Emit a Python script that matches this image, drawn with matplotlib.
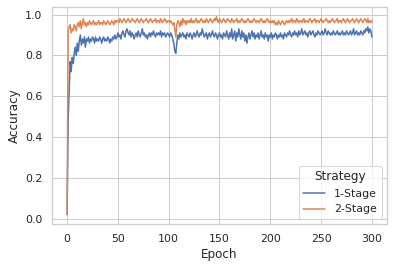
import numpy as np
import matplotlib
matplotlib.use("Agg")
import matplotlib.pyplot as plt
import seaborn as sns

# accuracy per epoch
stage1 = [
    0.02, 0.48, 0.63, 0.77, 0.72, 0.79, 0.76, 0.81, 0.84, 0.80,
    0.86, 0.82, 0.87, 0.90, 0.85, 0.88, 0.86, 0.89, 0.84, 0.88,
    0.87, 0.89, 0.86, 0.88, 0.87, 0.89, 0.88, 0.86, 0.89, 0.87,
    0.88, 0.87, 0.89, 0.88, 0.86, 0.88, 0.89, 0.87, 0.88, 0.87,
    0.89, 0.88, 0.86, 0.88, 0.87, 0.89, 0.88, 0.90, 0.88, 0.89,
    0.91, 0.89, 0.90, 0.88, 0.91, 0.92, 0.90, 0.89, 0.92, 0.93,
    0.91, 0.90, 0.92, 0.89, 0.91, 0.90, 0.88, 0.90, 0.91, 0.89,
    0.92, 0.90, 0.89, 0.91, 0.93, 0.90, 0.91, 0.89, 0.90, 0.88,
    0.90, 0.91, 0.89, 0.91, 0.90, 0.92, 0.90, 0.89, 0.91, 0.90,
    0.91, 0.90, 0.92, 0.89, 0.91, 0.90, 0.91, 0.89, 0.90, 0.91,
    0.90, 0.89, 0.91, 0.90, 0.88, 0.86, 0.82, 0.81, 0.86, 0.90,
    0.88, 0.91, 0.89, 0.90, 0.91, 0.89, 0.90, 0.88, 0.91, 0.90,
    0.89, 0.91, 0.90, 0.88, 0.90, 0.91, 0.89, 0.90, 0.92, 0.90,
    0.89, 0.91, 0.90, 0.93, 0.91, 0.89, 0.90, 0.91, 0.88, 0.90,
    0.91, 0.89, 0.90, 0.92, 0.90, 0.89, 0.91, 0.90, 0.88, 0.90,
    0.91, 0.89, 0.90, 0.88, 0.91, 0.90, 0.89, 0.92, 0.90, 0.88,
    0.91, 0.89, 0.93, 0.88, 0.90, 0.92, 0.87, 0.91, 0.89, 0.93,
    0.90, 0.88, 0.92, 0.89, 0.91, 0.87, 0.90, 0.86, 0.89, 0.91,
    0.88, 0.90, 0.92, 0.89, 0.91, 0.88, 0.90, 0.89, 0.91, 0.88,
    0.90, 0.92, 0.89, 0.90, 0.88, 0.91, 0.89, 0.90, 0.87, 0.90,
    0.89, 0.91, 0.88, 0.90, 0.89, 0.91, 0.90, 0.88, 0.90, 0.89,
    0.91, 0.89, 0.90, 0.88, 0.91, 0.90, 0.89, 0.91, 0.90, 0.92,
    0.90, 0.89, 0.91, 0.90, 0.92, 0.90, 0.91, 0.89, 0.92, 0.90,
    0.91, 0.93, 0.90, 0.91, 0.92, 0.90, 0.91, 0.89, 0.91, 0.92,
    0.90, 0.91, 0.92, 0.90, 0.89, 0.91, 0.90, 0.92, 0.91, 0.90,
    0.91, 0.92, 0.90, 0.91, 0.93, 0.91, 0.90, 0.92, 0.91, 0.90,
    0.91, 0.90, 0.92, 0.91, 0.90, 0.91, 0.92, 0.90, 0.91, 0.90,
    0.91, 0.92, 0.90, 0.91, 0.90, 0.92, 0.91, 0.90, 0.91, 0.92,
    0.90, 0.91, 0.93, 0.90, 0.91, 0.92, 0.90, 0.91, 0.90, 0.92,
    0.91, 0.90, 0.92, 0.91, 0.93, 0.92, 0.94, 0.91, 0.93, 0.92,
    0.89,
]
stage2 = [
    0.02, 0.92, 0.94, 0.95, 0.91, 0.93, 0.92, 0.95, 0.94, 0.92,
    0.95, 0.96, 0.94, 0.97, 0.93, 0.96, 0.98, 0.95, 0.96, 0.94,
    0.96, 0.95, 0.97, 0.96, 0.95, 0.96, 0.97, 0.95, 0.96, 0.95,
    0.96, 0.97, 0.95, 0.96, 0.96, 0.95, 0.97, 0.96, 0.95, 0.96,
    0.97, 0.96, 0.95, 0.96, 0.97, 0.96, 0.95, 0.97, 0.96, 0.97,
    0.97, 0.96, 0.98, 0.97, 0.96, 0.97, 0.98, 0.97, 0.96, 0.97,
    0.98, 0.97, 0.96, 0.97, 0.98, 0.97, 0.97, 0.96, 0.97, 0.98,
    0.97, 0.96, 0.97, 0.98, 0.97, 0.96, 0.97, 0.97, 0.98, 0.97,
    0.96, 0.97, 0.98, 0.97, 0.96, 0.97, 0.97, 0.98, 0.96, 0.97,
    0.97, 0.96, 0.98, 0.97, 0.96, 0.97, 0.98, 0.97, 0.96, 0.97,
    0.97, 0.96, 0.97, 0.96, 0.95, 0.96, 0.93, 0.89, 0.95, 0.97,
    0.96, 0.94, 0.97, 0.95, 0.98, 0.96, 0.97, 0.95, 0.97, 0.96,
    0.97, 0.96, 0.98, 0.96, 0.97, 0.96, 0.97, 0.98, 0.96, 0.97,
    0.96, 0.97, 0.98, 0.97, 0.96, 0.97, 0.96, 0.98, 0.97, 0.96,
    0.97, 0.98, 0.97, 0.96, 0.97, 0.98, 0.97, 0.99, 0.97, 0.96,
    0.98, 0.97, 0.96, 0.97, 0.98, 0.97, 0.96, 0.97, 0.98, 0.97,
    0.97, 0.96, 0.98, 0.97, 0.96, 0.97, 0.97, 0.98, 0.96, 0.97,
    0.96, 0.97, 0.98, 0.97, 0.96, 0.97, 0.96, 0.97, 0.98, 0.97,
    0.96, 0.97, 0.96, 0.97, 0.98, 0.97, 0.96, 0.97, 0.97, 0.96,
    0.97, 0.98, 0.97, 0.96, 0.97, 0.96, 0.97, 0.98, 0.97, 0.96,
    0.97, 0.96, 0.97, 0.96, 0.97, 0.95, 0.96, 0.95, 0.97, 0.96,
    0.95, 0.96, 0.97, 0.96, 0.95, 0.96, 0.97, 0.96, 0.97, 0.96,
    0.97, 0.98, 0.96, 0.97, 0.97, 0.96, 0.98, 0.97, 0.96, 0.97,
    0.97, 0.96, 0.97, 0.98, 0.96, 0.97, 0.97, 0.96, 0.97, 0.98,
    0.97, 0.96, 0.97, 0.97, 0.98, 0.96, 0.97, 0.97, 0.96, 0.97,
    0.98, 0.97, 0.96, 0.97, 0.97, 0.98, 0.97, 0.96, 0.97, 0.96,
    0.97, 0.98, 0.97, 0.96, 0.97, 0.97, 0.98, 0.96, 0.97, 0.97,
    0.96, 0.97, 0.98, 0.97, 0.96, 0.97, 0.98, 0.97, 0.96, 0.97,
    0.97, 0.98, 0.97, 0.96, 0.97, 0.98, 0.97, 0.96, 0.97, 0.98,
    0.97, 0.96, 0.97, 0.98, 0.97, 0.96, 0.98, 0.96, 0.97, 0.96,
    0.97,
]
epochs = np.arange(len(stage1))
strategies = ["1-Stage", "2-Stage"]

sns.set_theme(style="whitegrid")
fig, ax = plt.subplots(figsize=(393 / 72, 268 / 72), dpi=72)
fig.subplots_adjust(left=0.132, right=0.985, top=0.975, bottom=0.163)

ax.plot(epochs, stage1, label=strategies[0])
ax.plot(epochs, stage2, label=strategies[1])

ax.set_xlabel("Epoch")
ax.set_ylabel("Accuracy")
ax.legend(title="Strategy", loc="lower right")

fig.savefig("out.png")
